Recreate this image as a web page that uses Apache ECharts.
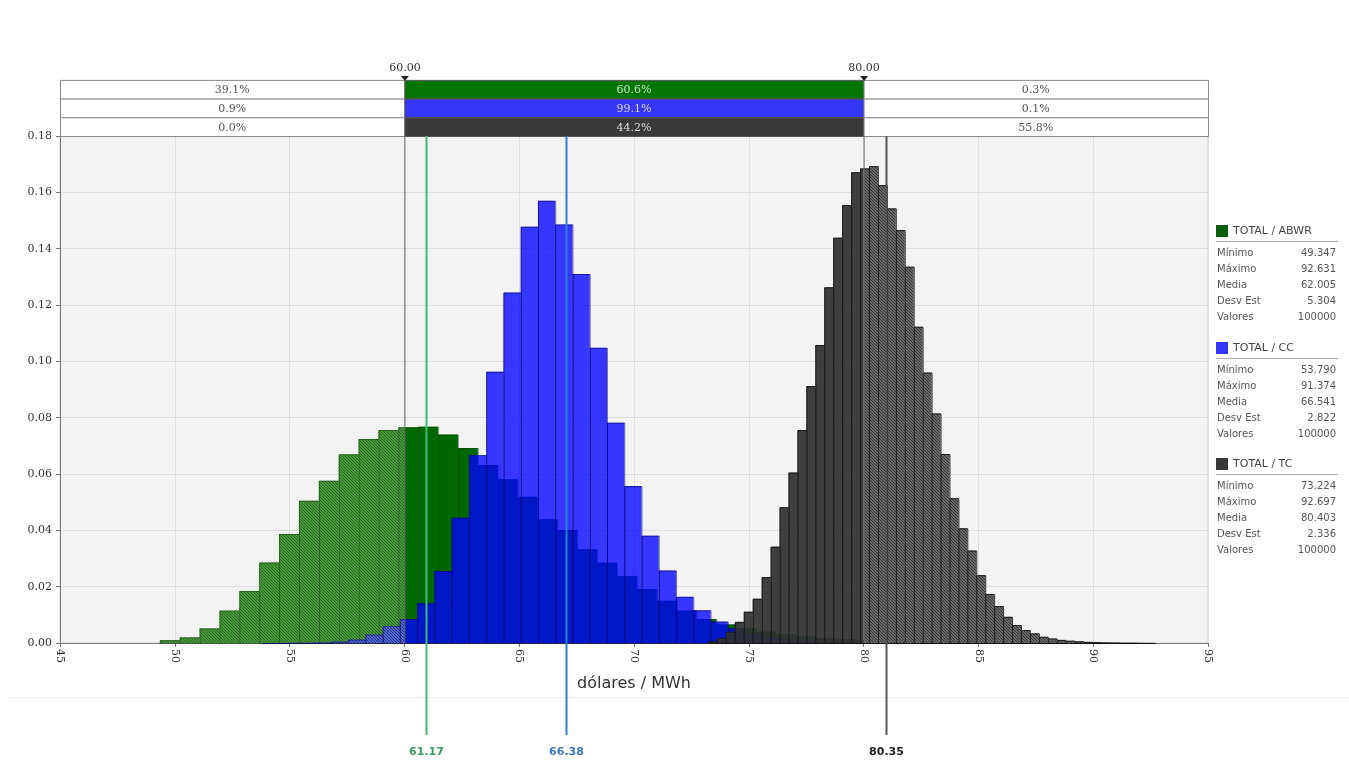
<!DOCTYPE html>
<html><head><meta charset="utf-8">
<script src="https://cdn.jsdelivr.net/npm/echarts@6/dist/echarts.min.js"></script>
<style>html,body{margin:0;padding:0;background:#fff}#c{width:1349px;height:766px}</style>
</head><body><div id="c"></div>
<script>
// ---------- DATA ----------
const seriesNames = ['TOTAL / ABWR', 'TOTAL / CC', 'TOTAL / TC'];
const statMin   = [49.347, 53.790, 73.224];
const statMax   = [92.631, 91.374, 92.697];
const statMean  = [62.005, 66.541, 80.403];
const statSd    = [5.304, 2.822, 2.336];
const statCount = [100000, 100000, 100000];
const binCount = 50;

const densABWR = [0.0010,0.0020,0.0052,0.0115,0.0185,0.0286,0.0387,0.0505,0.0576,0.0670,
                  0.0724,0.0756,0.0766,0.0768,0.0740,0.0692,0.0632,0.0581,0.0519,0.0439,
                  0.0401,0.0333,0.0285,0.0238,0.0191,0.0150,0.0115,0.0085,0.0066,0.0052,
                  0.0040,0.0031,0.0024,0.0018,0.0014,0.0010,0.0008,0.0006,0.0004,0.0003,
                  0.0002,0.00015,0.0001,0.00007,0.00005,0.00003,0.00002,0.00001,0.00001,0.00001];
const densCC   = [0.00002,0.00005,0.0001,0.0002,0.0005,0.0012,0.0030,0.0060,0.0085,0.0141,
                  0.0256,0.0445,0.0667,0.0963,0.1244,0.1478,0.1570,0.1486,0.1310,0.1048,
                  0.0782,0.0557,0.0381,0.0257,0.0164,0.0116,0.0076,0.0052,0.0034,0.0021,
                  0.0013,0.0008,0.0005,0.0003,0.0002,0.00012,0.00008,0.00005,0.00003,0.00003,
                  0.00002,0.00002,0.00001,0.00001,0.00001,0.00001,0.00001,0.00001,0.00001,0.00001];
const densTC   = [0.0006,0.0018,0.0040,0.0075,0.0111,0.0157,0.0234,0.0342,0.0482,0.0605,
                  0.0756,0.0912,0.1058,0.1263,0.1439,0.1555,0.1671,0.1685,0.1693,0.1626,
                  0.1543,0.1466,0.1336,0.1123,0.0960,0.0815,0.0671,0.0514,0.0407,0.0328,
                  0.0241,0.0174,0.0131,0.0093,0.0064,0.0046,0.0034,0.0022,0.0016,0.0011,
                  0.0008,0.0006,0.0004,0.0003,0.0002,0.00015,0.0001,0.0001,0.00005,0.00003];

const thresholds   = [60, 80];
const thresholdTxt = ['60.00', '80.00'];
const pctBelow   = ['39.1%', '0.9%', '0.0%'];
const pctBetween = ['60.6%', '99.1%', '44.2%'];
const pctAbove   = ['0.3%', '0.1%', '55.8%'];

const markerPos  = [60.96, 67.06, 80.96];
const markerText = ['61.17', '66.38', '80.35'];

const xTicks = [45, 50, 55, 60, 65, 70, 75, 80, 85, 90, 95];
const xTitle = 'dólares / MWh';
const statLabels = ['Mínimo', 'Máximo', 'Media', 'Desv Est', 'Valores'];

// ---------- STYLE ----------
function makeHatch(bg, fg) {
  const c = document.createElement('canvas');
  c.width = 3; c.height = 3;
  const g = c.getContext('2d');
  g.fillStyle = bg; g.fillRect(0, 0, 3, 3);
  g.strokeStyle = fg; g.lineWidth = 0.9;
  g.beginPath(); g.moveTo(-1, -1); g.lineTo(4, 4); g.stroke();
  return { image: c, repeat: 'repeat' };
}
const solidCol = ['#006800', 'rgba(0,0,255,0.78)', 'rgba(48,48,48,0.93)'];
const hatchCol = [makeHatch('#4a9a3c', '#21651c'),
                  makeHatch('rgba(90,90,255,0.7)', 'rgba(20,20,150,0.85)'),
                  makeHatch('#6a6a6a', '#2e2e2e')];
const edgeCol  = ['rgba(0,50,0,0.45)', 'rgba(0,0,90,0.55)', 'rgba(20,20,20,0.85)'];
const bandCol  = ['#037503', '#3535f5', '#3a3a3a'];
const bandTxt  = ['#c4e8c4', '#dcdcff', '#dddddd'];
const legendCol = ['#0b5e0b', '#3535f5', '#383838'];
const markerLineCol = ['#3dbb7a', '#2a80d0', '#555555'];
const markerTxtCol  = ['#3a9a62', '#3a7ac0', '#222222'];

const serif = 'DejaVu Serif';
const sans = 'DejaVu Sans';

// ---------- BUILD ----------
const dens = [densABWR, densCC, densTC];
function histData(s) {
  const w = (statMax[s] - statMin[s]) / binCount;
  return dens[s].map((v, i) => [statMin[s] + i * w, statMin[s] + (i + 1) * w, v]);
}
function histRender(s) {
  return function (params, api) {
    const x0 = api.value(0), x1 = api.value(1), h = api.value(2);
    const pTop = api.coord([x0, h])[1], pBase = api.coord([x0, 0])[1];
    const cuts = [x0].concat(thresholds.filter(t => t > x0 && t < x1), [x1]);
    const children = [];
    for (let k = 0; k < cuts.length - 1; k++) {
      const a = cuts[k], b = cuts[k + 1], mid = (a + b) / 2;
      const inside = mid >= thresholds[0] && mid <= thresholds[1];
      const pa = api.coord([a, 0])[0], pb = api.coord([b, 0])[0];
      children.push({ type: 'rect', shape: { x: pa, y: pTop, width: pb - pa, height: pBase - pTop },
        style: { fill: inside ? solidCol[s] : hatchCol[s] } });
    }
    const px0 = api.coord([x0, 0])[0], px1 = api.coord([x1, 0])[0];
    children.push({ type: 'rect', shape: { x: px0 + 0.5, y: pTop + 0.5, width: px1 - px0, height: pBase - pTop },
      style: { fill: null, stroke: edgeCol[s], lineWidth: 1 } });
    return { type: 'group', children };
  };
}

const ROW_H = 18.7;
function bandRender(params, api) {
  const r = api.value(0);
  const topLeft = api.coord([xTicks[0], 0.18]);
  const pL = topLeft[0], gTop = topLeft[1];
  const pA = api.coord([thresholds[0], 0.18])[0];
  const pB = api.coord([thresholds[1], 0.18])[0];
  const pR = api.coord([xTicks[xTicks.length - 1], 0.18])[0];
  const y = gTop - (3 - r) * ROW_H;
  const children = [
    { type: 'rect', shape: { x: pL + 0.5, y: y + 0.5, width: pA - pL, height: ROW_H }, style: { fill: '#fff', stroke: '#8a8a8a', lineWidth: 1 } },
    { type: 'rect', shape: { x: pA + 0.5, y: y + 0.5, width: pB - pA, height: ROW_H }, style: { fill: bandCol[r], stroke: '#555', lineWidth: 1 } },
    { type: 'rect', shape: { x: pB + 0.5, y: y + 0.5, width: pR - pB, height: ROW_H }, style: { fill: '#fff', stroke: '#8a8a8a', lineWidth: 1 } },
    { type: 'text', x: (pL + pA) / 2, y: y + ROW_H / 2 + 1, style: { text: pctBelow[r], fill: '#555', font: '11px ' + serif, align: 'center', verticalAlign: 'middle' } },
    { type: 'text', x: (pA + pB) / 2, y: y + ROW_H / 2 + 1, style: { text: pctBetween[r], fill: bandTxt[r], font: '11px ' + serif, align: 'center', verticalAlign: 'middle' } },
    { type: 'text', x: (pB + pR) / 2, y: y + ROW_H / 2 + 1, style: { text: pctAbove[r], fill: '#555', font: '11px ' + serif, align: 'center', verticalAlign: 'middle' } }
  ];
  if (r === 0) {
    const base = api.coord([thresholds[0], 0])[1];
    [pA, pB].forEach((px, k) => {
      children.push({ type: 'line', shape: { x1: px + 0.5, y1: gTop, x2: px + 0.5, y2: base }, style: { stroke: '#666', lineWidth: 1 }, z2: 50 });
      children.push({ type: 'polygon', shape: { points: [[px - 3.5, y - 4], [px + 4.5, y - 4], [px + 0.5, y + 1]] }, style: { fill: '#222' } });
      children.push({ type: 'text', x: px + 0.5, y: y - 12, style: { text: thresholdTxt[k], fill: '#333', font: '11px ' + serif, align: 'center', verticalAlign: 'middle' } });
    });
  }
  return { type: 'group', children };
}

function markerRender(params, api) {
  const i = api.value(1);
  const top = api.coord([api.value(0), 0.18]);
  const px = Math.round(top[0]) + 0.5;
  return { type: 'group', children: [
    { type: 'line', shape: { x1: px, y1: top[1], x2: px, y2: 735 }, style: { stroke: markerLineCol[i], lineWidth: 2 } },
    { type: 'text', x: px, y: 752, style: { text: markerText[i], fill: markerTxtCol[i], font: 'bold 11px ' + sans, align: 'center', verticalAlign: 'middle' } }
  ] };
}

// legend graphics
const legendEls = [];
const blockTop = [231, 348, 464];
for (let s = 0; s < 3; s++) {
  const y0 = blockTop[s];
  legendEls.push({ type: 'rect', left: 1216, top: y0 - 6, shape: { width: 12, height: 12 }, style: { fill: legendCol[s] } });
  legendEls.push({ type: 'text', x: 1233, y: y0, style: { text: seriesNames[s], fill: '#444', font: '11px ' + sans, verticalAlign: 'middle' } });
  legendEls.push({ type: 'line', shape: { x1: 1216, y1: y0 + 10.5, x2: 1338, y2: y0 + 10.5 }, style: { stroke: '#aaa', lineWidth: 1 } });
  const vals = [statMin[s].toFixed(3), statMax[s].toFixed(3), statMean[s].toFixed(3), statSd[s].toFixed(3), String(statCount[s])];
  for (let k = 0; k < 5; k++) {
    const yy = y0 + 22 + k * 16.2;
    legendEls.push({ type: 'text', x: 1217, y: yy, style: { text: statLabels[k], fill: '#555', font: '10px ' + sans, align: 'left', verticalAlign: 'middle' } });
    legendEls.push({ type: 'text', x: 1336, y: yy, style: { text: vals[k], fill: '#555', font: '10px ' + sans, align: 'right', verticalAlign: 'middle' } });
  }
}
legendEls.push({ type: 'line', shape: { x1: 10, y1: 697.5, x2: 1349, y2: 697.5 }, style: { stroke: '#eeeeee', lineWidth: 1 } });

const chart = echarts.init(document.getElementById('c'), null, { renderer: 'canvas' });
chart.setOption({
  animation: false,
  backgroundColor: '#ffffff',
  grid: { left: 60, right: 141, top: 136, bottom: 123, show: true, backgroundColor: '#f3f3f3', borderColor: '#d4d4d4', borderWidth: 1 },
  xAxis: {
    type: 'value', min: 45, max: 95, interval: 5,
    name: xTitle, nameLocation: 'middle', nameGap: 33,
    nameTextStyle: { fontFamily: sans, fontSize: 16, color: '#333' },
    axisLine: { show: true, lineStyle: { color: '#777' } },
    axisTick: { show: true, length: 4, lineStyle: { color: '#777' } },
    axisLabel: { rotate: -90, margin: 6, fontFamily: serif, fontSize: 11, color: '#333' },
    splitLine: { show: true, lineStyle: { color: '#dedede' } }
  },
  yAxis: {
    type: 'value', min: 0, max: 0.18, interval: 0.02,
    axisLine: { show: true, lineStyle: { color: '#777' } },
    axisTick: { show: true, length: 4, lineStyle: { color: '#777' } },
    axisLabel: { margin: 8, fontFamily: serif, fontSize: 11, color: '#333', formatter: v => v.toFixed(2) },
    splitLine: { show: true, lineStyle: { color: '#dedede' } }
  },
  graphic: legendEls,
  series: [
    { type: 'custom', name: seriesNames[0], data: histData(0), renderItem: histRender(0), encode: { x: [0, 1], y: 2 }, z: 2 },
    { type: 'custom', name: seriesNames[1], data: histData(1), renderItem: histRender(1), encode: { x: [0, 1], y: 2 }, z: 3 },
    { type: 'custom', name: seriesNames[2], data: histData(2), renderItem: histRender(2), encode: { x: [0, 1], y: 2 }, z: 4 },
    { type: 'custom', name: 'band', data: [[0], [1], [2]], renderItem: bandRender, clip: false, z: 6, silent: true },
    { type: 'custom', name: 'markers', data: markerPos.map((p, i) => [p, i]), renderItem: markerRender, clip: false, z: 7, silent: true, encode: { x: 0 } }
  ]
});
</script>
</body></html>
